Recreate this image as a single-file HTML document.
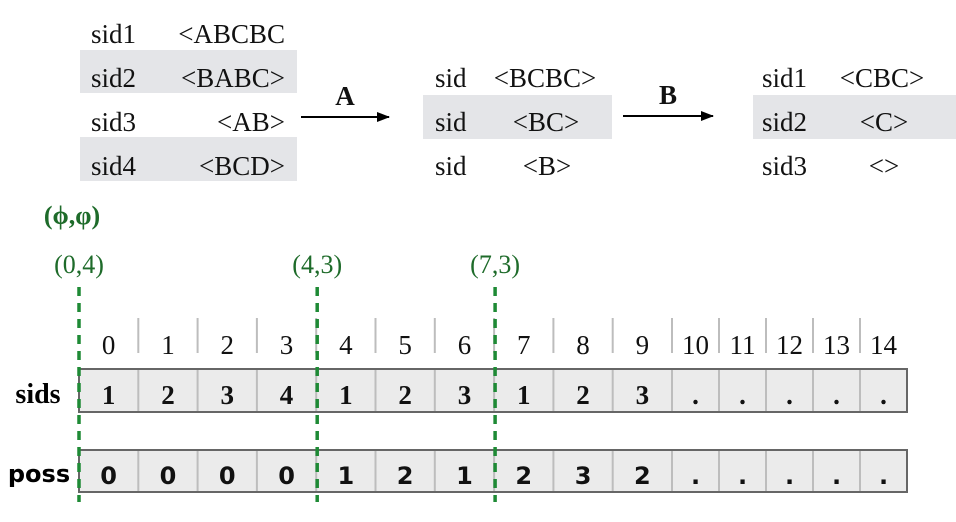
<!DOCTYPE html>
<html><head><meta charset="utf-8"><style>
html,body{margin:0;padding:0;background:#fff;}
svg{display:block;}
.s{font-family:"Liberation Serif",serif;font-size:27px;fill:#111;}
.g{font-family:"Liberation Serif",serif;font-size:26px;fill:#1e6b2a;}
</style></head><body>
<svg id="fig" width="956" height="522" viewBox="0 0 956 522" xmlns="http://www.w3.org/2000/svg">
<defs><marker id="ah" markerWidth="13" markerHeight="10" refX="12" refY="5" orient="auto" markerUnits="userSpaceOnUse"><path d="M0,0 L13,5 L0,10 z" fill="#000"/></marker></defs>
<g>
<rect x="80" y="50" width="217" height="43" fill="#e4e5e8"/>
<rect x="80" y="137" width="217" height="44" fill="#e4e5e8"/>
<text class="s" x="91" y="43">sid1</text><text class="s" x="285" y="43" text-anchor="end">&lt;ABCBC</text>
<text class="s" x="91" y="87">sid2</text><text class="s" x="285" y="87" text-anchor="end">&lt;BABC&gt;</text>
<text class="s" x="91" y="131">sid3</text><text class="s" x="285" y="131" text-anchor="end">&lt;AB&gt;</text>
<text class="s" x="91" y="175">sid4</text><text class="s" x="285" y="175" text-anchor="end">&lt;BCD&gt;</text>
</g>
<g>
<line x1="301" y1="117" x2="389" y2="117" stroke="#000" stroke-width="2" marker-end="url(#ah)"/>
<text class="s" x="345" y="105" text-anchor="middle" font-weight="bold">A</text>
</g>
<g>
<rect x="423" y="95" width="189" height="44" fill="#e4e5e8"/>
<text class="s" x="435" y="87">sid</text><text class="s" x="545" y="87" text-anchor="middle">&lt;BCBC&gt;</text>
<text class="s" x="435" y="131">sid</text><text class="s" x="546" y="131" text-anchor="middle">&lt;BC&gt;</text>
<text class="s" x="435" y="175">sid</text><text class="s" x="547" y="175" text-anchor="middle">&lt;B&gt;</text>
</g>
<g>
<line x1="623" y1="116" x2="713" y2="116" stroke="#000" stroke-width="2" marker-end="url(#ah)"/>
<text class="s" x="668" y="104" text-anchor="middle" font-weight="bold">B</text>
</g>
<g>
<rect x="753" y="95" width="203" height="44" fill="#e4e5e8"/>
<text class="s" x="762" y="87">sid1</text><text class="s" x="882" y="87" text-anchor="middle">&lt;CBC&gt;</text>
<text class="s" x="762" y="131">sid2</text><text class="s" x="884" y="131" text-anchor="middle">&lt;C&gt;</text>
<text class="s" x="762" y="175">sid3</text><text class="s" x="884" y="175" text-anchor="middle">&lt;&gt;</text>
</g>
<text class="g" x="72" y="224" text-anchor="middle" font-weight="bold">(ϕ,φ)</text>
<text x="38" y="403" style="font-family:'Liberation Serif',serif;font-weight:bold;font-size:28px" text-anchor="middle">sids</text>
<text x="39" y="482" style="font-family:'DejaVu Sans',sans-serif;font-weight:bold;font-size:24px" text-anchor="middle">poss</text>
<g id="cells"></g>
<g id="marks"></g>
</svg>
<script>
const indices=["0","1","2","3","4","5","6","7","8","9","10","11","12","13","14"];
const sids=["1","2","3","4","1","2","3","1","2","3",".",".",".",".","."];
const poss=["0","0","0","0","1","2","1","2","3","2",".",".",".",".","."];
const markerIdx=[0,4,7];
const markerLabels=["(0,4)","(4,3)","(7,3)"];
const NS="http://www.w3.org/2000/svg";
function xb(i){return i<=10?79+i*59.3:672+(i-10)*47;}
const cells=document.getElementById('cells');
function mk(tag,attrs,parent){const e=document.createElementNS(NS,tag);for(const k in attrs)e.setAttribute(k,attrs[k]);parent.appendChild(e);return e;}
const rows=[{vals:sids,y:369,h:43,style:"font-family:'Liberation Serif',serif;font-weight:bold;font-size:27px",name:'sids'},{vals:poss,y:450,h:42,style:"font-family:'DejaVu Sans',sans-serif;font-weight:bold;font-size:24px",name:'poss'}];
rows.forEach(r=>{
  const bg=mk('rect',{x:xb(0),y:r.y,width:xb(indices.length)-xb(0),height:r.h,fill:'#ebebeb'},cells);
  
  
  r.vals.forEach((v,i)=>{
    if(i>0){const l=mk('line',{x1:xb(i),x2:xb(i),y1:r.y,y2:r.y+r.h,stroke:'#bdbdbd','stroke-width':2},cells);
      
      }
    const t=mk('text',{x:(xb(i)+xb(i+1))/2,y:r.y+r.h-8,'text-anchor':'middle',style:r.style+';fill:#111'},cells);
    t.textContent=v;
    
    
  });
  const b=mk('rect',{x:xb(0),y:r.y,width:xb(indices.length)-xb(0),height:r.h,fill:'none',stroke:'#666','stroke-width':2},cells);
  
  
});
indices.forEach((v,i)=>{
  if(i>0){const l=mk('line',{x1:xb(i),x2:xb(i),y1:318,y2:353,stroke:'#bdbdbd','stroke-width':2},cells);
    
    }
  const t=mk('text',{x:(xb(i)+xb(i+1))/2,y:354,'text-anchor':'middle','class':'s'},cells);
  t.textContent=v;
  
  
});
const marks=document.getElementById('marks');
markerIdx.forEach((m,k)=>{
  const x=xb(m)+(m===0?0:1);
  const l=mk('line',{x1:x,x2:x,y1:287,y2:502,stroke:'#1e8a35','stroke-width':3.5,'stroke-dasharray':'9,7'},marks);
  
  
  const t=mk('text',{x:x,y:273,'text-anchor':'middle','class':'g'},marks);
  t.textContent=markerLabels[k];
  
  
});
</script>
</body></html>
